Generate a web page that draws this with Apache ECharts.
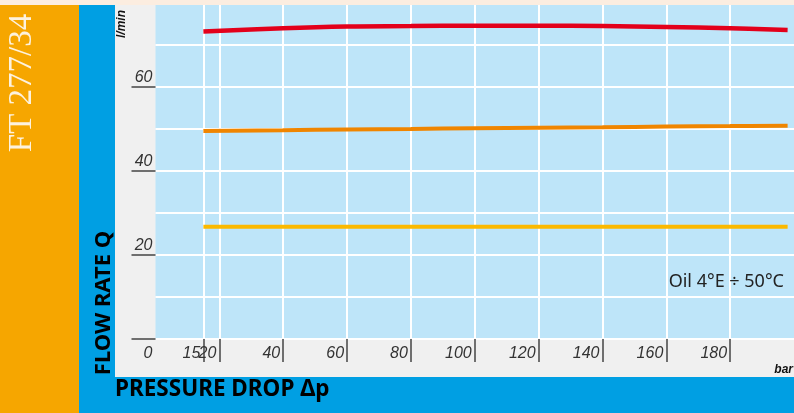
<!DOCTYPE html>
<html>
<head>
<meta charset="utf-8">
<script src="https://cdn.jsdelivr.net/npm/echarts@6/dist/echarts.min.js"></script>
<style>
  html, body { margin: 0; padding: 0; }
  #chart { width: 794px; height: 413px; }
</style>
</head>
<body>
<div id="chart"></div>
<script>
// pressure drop (bar) and flow rate (l/min)
const pressure = [15, 40, 60, 80, 100, 120, 140, 160, 180, 198];
const redFlow = [73.2, 74.0, 74.4, 74.5, 74.6, 74.6, 74.5, 74.3, 74.0, 73.6];
const orangeFlow = [49.5, 49.7, 49.9, 50.0, 50.2, 50.3, 50.4, 50.6, 50.7, 50.8];
const yellowFlow = [26.7, 26.7, 26.7, 26.7, 26.7, 26.7, 26.7, 26.7, 26.7, 26.7];

const xTickValues = [15, 20, 40, 60, 80, 100, 120, 140, 160, 180];
const xLabelValues = [0, 15, 20, 40, 60, 80, 100, 120, 140, 160, 180];
const yTickValues = [0, 20, 40, 60, 80];
const yLabelValues = [20, 40, 60];

const chart = echarts.init(document.getElementById("chart"));

function pairs(ys) {
  return pressure.map((x, i) => [x, ys[i]]);
}

const labelFont = "'Liberation Sans', 'DejaVu Sans', sans-serif";
const labelStyle = {
  fontFamily: labelFont,
  fontStyle: "italic",
  fontSize: 16,
  color: "#333"
};

chart.setOption({
  backgroundColor: "#f0f0f0",
  animation: false,
  grid: {
    left: 155.5,
    top: 3,
    width: 642,
    height: 336,
    show: true,
    backgroundColor: "#bee5f9",
    borderWidth: 0
  },
  xAxis: {
    type: "value",
    min: 0,
    max: 200,
    interval: 5,
    axisLine: { show: false },
    axisTick: {
      show: true,
      customValues: xTickValues,
      length: 23,
      lineStyle: { color: "#444", width: 1.5 }
    },
    axisLabel: Object.assign({}, labelStyle, {
      customValues: xLabelValues,
      align: "right",
      verticalAlign: "top",
      padding: [0, 3, 0, 0],
      margin: 7
    }),
    splitLine: {
      show: true,
      lineStyle: { color: "#ffffff", width: 2 }
    }
  },
  yAxis: [
    {
      // grid lines every 10 l/min
      type: "value",
      min: 0,
      max: 80,
      interval: 10,
      axisLine: { show: false },
      axisTick: { show: false },
      axisLabel: { show: false },
      splitLine: {
        show: true,
        lineStyle: { color: "#ffffff", width: 2 }
      }
    },
    {
      // ticks and labels
      type: "value",
      position: "left",
      min: 0,
      max: 80,
      interval: 20,
      axisLine: { show: false },
      axisTick: {
        show: true,
        customValues: yTickValues,
        length: 24,
        lineStyle: { color: "#444", width: 1.5 }
      },
      axisLabel: Object.assign({}, labelStyle, {
        customValues: yLabelValues,
        verticalAlign: "bottom",
        padding: [0, 0, 1, 0],
        margin: 3
      }),
      splitLine: { show: false }
    }
  ],
  series: [
    {
      type: "line",
      data: pairs(redFlow),
      smooth: 0.4,
      symbol: "none",
      lineStyle: { color: "#e3001b", width: 4.5 }
    },
    {
      type: "line",
      data: pairs(orangeFlow),
      smooth: 0.4,
      symbol: "none",
      lineStyle: { color: "#f08500", width: 4 }
    },
    {
      type: "line",
      data: pairs(yellowFlow),
      symbol: "none",
      lineStyle: { color: "#fbb900", width: 4 }
    }
  ],
  graphic: [
    { type: "rect", z: 100, shape: { x: 0, y: 0, width: 794, height: 5 }, style: { fill: "#fcede0" } },
    { type: "rect", z: 1, shape: { x: 0, y: 5, width: 79, height: 408 }, style: { fill: "#f6a600" } },
    { type: "rect", z: 1, shape: { x: 79, y: 5, width: 36, height: 408 }, style: { fill: "#009fe3" } },
    { type: "rect", z: 1, shape: { x: 79, y: 377, width: 715, height: 36 }, style: { fill: "#009fe3" } },
    {
      type: "text", z: 101, x: 22, y: 83, rotation: Math.PI / 2,
      style: {
        text: "FT 277/34", fill: "#fdf2de",
        font: "33px 'Liberation Serif', serif",
        textAlign: "center", textVerticalAlign: "middle"
      }
    },
    {
      type: "text", z: 101, x: 104, y: 303, rotation: Math.PI / 2,
      style: {
        text: "FLOW RATE Q", fill: "#000",
        font: "bold 22px 'Noto Sans', sans-serif",
        textAlign: "center", textVerticalAlign: "middle"
      }
    },
    {
      type: "text", z: 101, x: 122, y: 24, rotation: Math.PI / 2,
      style: {
        text: "l/min", fill: "#111",
        font: "italic bold 12px 'Liberation Sans', sans-serif",
        textAlign: "center", textVerticalAlign: "middle"
      }
    },
    {
      type: "text", z: 101, x: 115, y: 390,
      style: {
        text: "PRESSURE DROP \u0394p", fill: "#000",
        font: "bold 22.5px 'Noto Sans', sans-serif",
        textAlign: "left", textVerticalAlign: "middle"
      }
    },
    {
      type: "text", z: 101, x: 793, y: 370,
      style: {
        text: "bar", fill: "#111",
        font: "italic bold 12px 'Liberation Sans', sans-serif",
        textAlign: "right", textVerticalAlign: "middle"
      }
    },
    {
      type: "text", z: 101, x: 784, y: 282,
      style: {
        text: "Oil 4\u00b0E \u00f7 50\u00b0C", fill: "#222",
        font: "18px 'Noto Sans', sans-serif",
        textAlign: "right", textVerticalAlign: "middle"
      }
    }
  ]
});
</script>
</body>
</html>
